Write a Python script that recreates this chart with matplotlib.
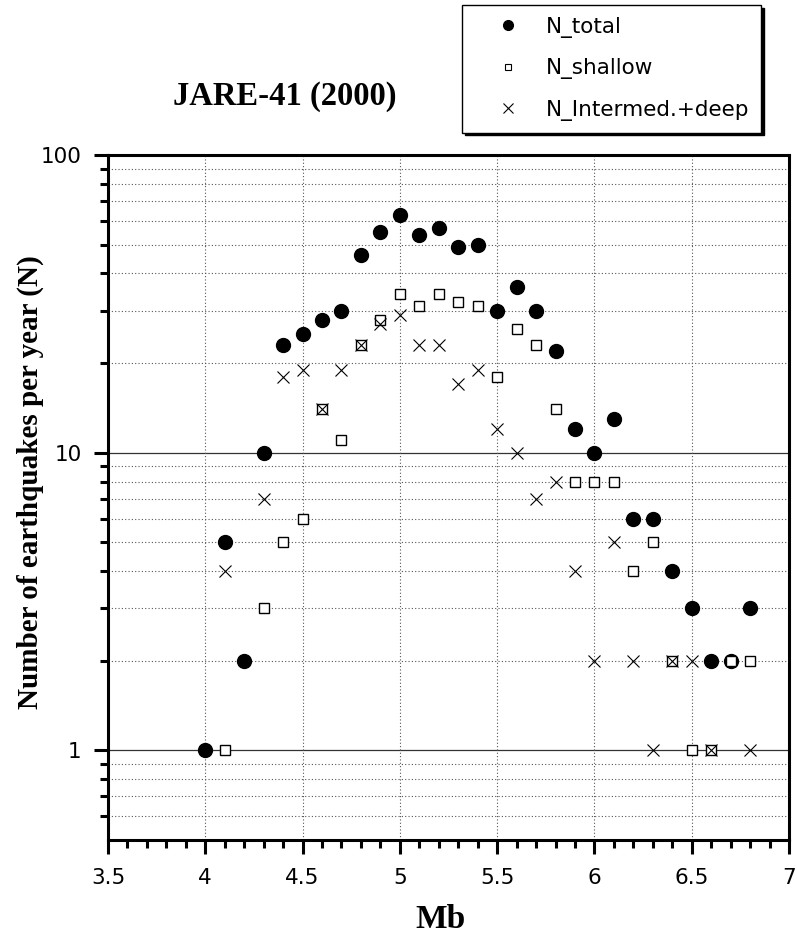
import matplotlib
matplotlib.use("Agg")
import matplotlib.pyplot as plt
from matplotlib.ticker import FixedLocator, NullFormatter, MultipleLocator, FixedFormatter
from matplotlib.lines import Line2D

# ---- data ----
mb_total = [4.0, 4.1, 4.2, 4.3, 4.4, 4.5, 4.6, 4.7, 4.8, 4.9, 5.0, 5.1, 5.2, 5.3, 5.4,
            5.5, 5.6, 5.7, 5.8, 5.9, 6.0, 6.1, 6.2, 6.3, 6.4, 6.5, 6.6, 6.7, 6.8]
n_total = [1, 5, 2, 10, 23, 25, 28, 30, 46, 55, 63, 54, 57, 49, 50,
           30, 36, 30, 22, 12, 10, 13, 6, 6, 4, 3, 2, 2, 3]

mb_shallow = [4.1, 4.3, 4.4, 4.5, 4.6, 4.7, 4.8, 4.9, 5.0, 5.1, 5.2, 5.3, 5.4,
              5.5, 5.6, 5.7, 5.8, 5.9, 6.0, 6.1, 6.2, 6.3, 6.4, 6.5, 6.6, 6.7, 6.8]
n_shallow = [1, 3, 5, 6, 14, 11, 23, 28, 34, 31, 34, 32, 31,
             18, 26, 23, 14, 8, 8, 8, 4, 5, 2, 1, 1, 2, 2]

mb_deep = [4.1, 4.3, 4.4, 4.5, 4.6, 4.7, 4.8, 4.9, 5.0, 5.1, 5.2, 5.3, 5.4,
           5.5, 5.6, 5.7, 5.8, 5.9, 6.0, 6.1, 6.2, 6.3, 6.4, 6.5, 6.6, 6.8]
n_deep = [4, 7, 18, 19, 14, 19, 23, 27, 29, 23, 23, 17, 19,
          12, 10, 7, 8, 4, 2, 5, 2, 1, 2, 2, 1, 1]

x_ticks = [3.5, 4, 4.5, 5, 5.5, 6, 6.5, 7]
x_tick_labels = ["3.5", "4", "4.5", "5", "5.5", "6", "6.5", "7"]
y_ticks = [1, 10, 100]
y_tick_labels = ["1", "10", "100"]

title_text = "JARE-41 (2000)"
xlabel_text = "Mb"
ylabel_text = "Number of earthquakes per year (N)"
labels = ["N_total", "N_shallow", "N_Intermed.+deep"]

# ---- figure ----
fig = plt.figure(figsize=(7.97, 9.36), dpi=100)
ax = fig.add_axes([108 / 797, 96 / 936, 681 / 797, 685 / 936])

ax.set_yscale("log")
ax.set_xlim(3.5, 7)
ax.set_ylim(0.5, 100)

sans = ["DejaVu Sans"]
serif = ["Liberation Serif", "DejaVu Serif"]

# grid
minor_y = [m * d for d in (0.1, 1, 10) for m in range(2, 10)]
minor_y = [v for v in minor_y if 0.5 < v < 100]
for v in minor_y:
    ax.axhline(v, color="#555555", lw=0.8, ls=(0, (1, 2)), zorder=1)
for v in [1, 10]:
    ax.axhline(v, color="#333333", lw=0.9, ls="-", zorder=1)
for v in [4, 4.5, 5, 5.5, 6, 6.5]:
    ax.axvline(v, color="#555555", lw=0.8, ls=(0, (1, 2)), zorder=1)

# data
ax.plot(mb_total, n_total, ls="none", marker="o", ms=10, mfc="black", mec="black", zorder=3)
ax.plot(mb_shallow, n_shallow, ls="none", marker="s", ms=6.5, mfc="white", mec="black", mew=1.0, zorder=4)
ax.plot(mb_deep, n_deep, ls="none", marker="x", ms=8.5, color="black", mew=0.8, zorder=5)

# ticks
ax.xaxis.set_major_locator(FixedLocator(x_ticks))
ax.xaxis.set_major_formatter(FixedFormatter(x_tick_labels))
ax.xaxis.set_minor_locator(MultipleLocator(0.1))
ax.yaxis.set_major_locator(FixedLocator(y_ticks))
ax.yaxis.set_major_formatter(FixedFormatter(y_tick_labels))
ax.yaxis.set_minor_locator(FixedLocator(minor_y))
ax.yaxis.set_minor_formatter(NullFormatter())

ax.tick_params(axis="both", which="major", direction="out", length=10, width=2.2, labelsize=15.5)
ax.tick_params(axis="x", which="major", pad=10)
ax.tick_params(axis="y", which="major", pad=9)
ax.tick_params(axis="both", which="minor", direction="out", length=6, width=2.2)
ax.tick_params(top=False, right=False, which="both")
for lab in ax.get_xticklabels() + ax.get_yticklabels():
    lab.set_family(sans)

for s in ax.spines.values():
    s.set_linewidth(2.2)

fig.text(441 / 797, 1 - 919 / 936, xlabel_text, fontsize=24, fontweight="bold",
         family=serif, ha="center", va="center")
fig.text(30 / 797, 1 - 482 / 936, ylabel_text, fontsize=21, fontweight="bold",
         family=serif, ha="center", va="center", rotation=90)
fig.text(284.5 / 797, 1 - 97 / 936, title_text, fontsize=23.5, fontweight="bold",
         family=serif, ha="center", va="center")

handles = [
    Line2D([], [], ls="none", marker="o", ms=7, mfc="black", mec="black"),
    Line2D([], [], ls="none", marker="s", ms=5, mfc="white", mec="black", mew=0.8),
    Line2D([], [], ls="none", marker="x", ms=7, color="black", mew=0.8),
]
leg = fig.legend(handles, labels, loc="upper left", bbox_to_anchor=(462 / 797, 1 - 5 / 936),
                 frameon=True, fancybox=False, edgecolor="black", framealpha=1,
                 shadow={"facecolor": "black", "edgecolor": "black", "alpha": 1},
                 prop={"family": sans, "size": 15.5}, handlelength=3.2, handletextpad=0.15,
                 borderpad=0.55, labelspacing=0.95, borderaxespad=0)
leg.get_frame().set_linewidth(1.0)

fig.savefig("out.png", dpi=100)
